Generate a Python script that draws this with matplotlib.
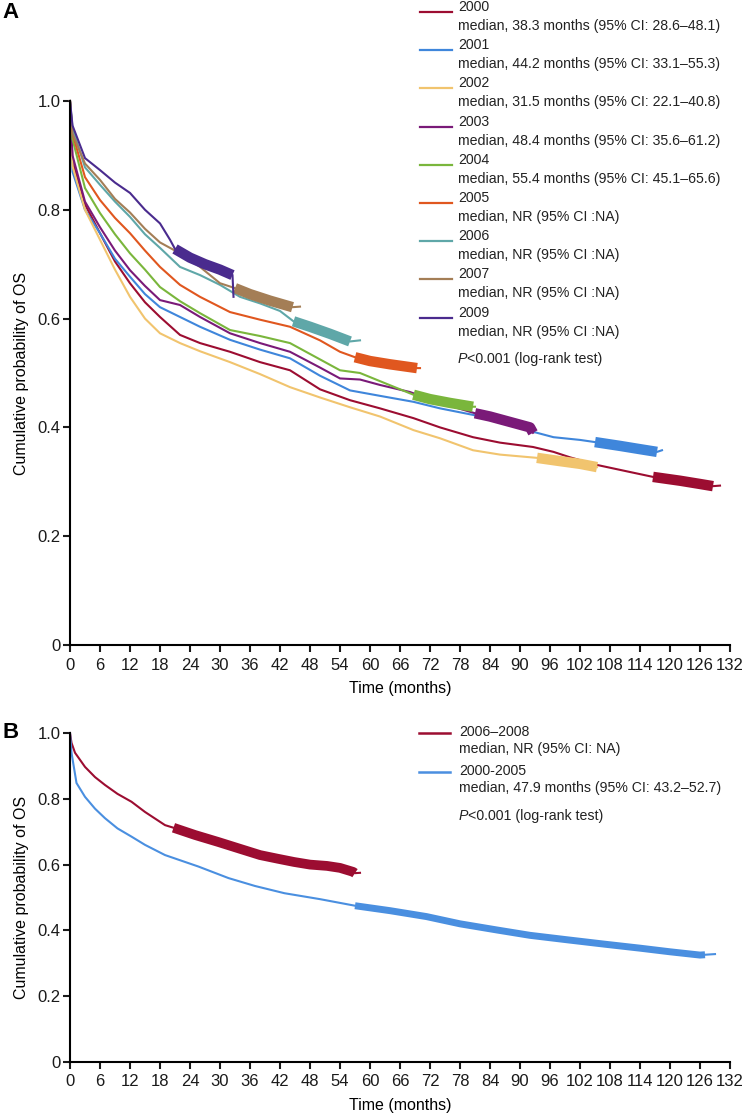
import matplotlib
matplotlib.use("Agg")
import matplotlib.pyplot as plt
from matplotlib.lines import Line2D

plt.rcParams['font.family'] = ['Liberation Sans', 'DejaVu Sans']

W, H = 743, 1114

# ---------------- Panel A data ----------------
years_a = ["2000", "2001", "2002", "2003", "2004", "2005", "2006", "2007", "2009"]
medians_a = [
    "median, 38.3 months (95% CI: 28.6\u201348.1)",
    "median, 44.2 months (95% CI: 33.1\u201355.3)",
    "median, 31.5 months (95% CI: 22.1\u201340.8)",
    "median, 48.4 months (95% CI: 35.6\u201361.2)",
    "median, 55.4 months (95% CI: 45.1\u201365.6)",
    "median, NR (95% CI :NA)",
    "median, NR (95% CI :NA)",
    "median, NR (95% CI :NA)",
    "median, NR (95% CI :NA)",
]
colors_a = ["#9C0D31", "#3F86DB", "#F1C46E", "#7A1A78", "#7AB63C",
            "#E0571F", "#5FA7A8", "#A47E56", "#4A2B8E"]

t_2000 = [0, 0.5, 3, 6, 9, 12, 15, 18, 22, 26, 32, 38, 44, 50, 56, 62, 68.7, 74, 80.6, 86, 92.6, 96.7, 100, 105.4, 112, 116.6, 122, 126, 128.6, 130]
s_2000 = [1.0, 0.89, 0.81, 0.757, 0.705, 0.665, 0.63, 0.603, 0.57, 0.555, 0.539, 0.52, 0.505, 0.47, 0.45, 0.435, 0.417, 0.40, 0.382, 0.372, 0.364, 0.355, 0.345, 0.331, 0.318, 0.309, 0.302, 0.296, 0.292, 0.293]

t_2001 = [0, 0.5, 3, 6, 9, 12, 15, 18, 22, 26, 32, 38, 44, 50, 56, 62, 68.7, 74, 80.6, 86, 92.6, 96.7, 102, 105, 110, 114, 117.4, 118.4]
s_2001 = [1.0, 0.87, 0.80, 0.757, 0.71, 0.677, 0.645, 0.621, 0.603, 0.585, 0.561, 0.543, 0.527, 0.495, 0.468, 0.458, 0.447, 0.435, 0.423, 0.41, 0.392, 0.382, 0.377, 0.373, 0.366, 0.36, 0.355, 0.358]

t_2002 = [0, 0.5, 3, 6, 9, 12, 15, 18, 22, 26, 32, 38, 44, 50, 56, 62, 68.7, 74, 80.6, 86, 93.4, 98, 102, 105.4]
s_2002 = [1.0, 0.88, 0.80, 0.745, 0.69, 0.64, 0.60, 0.573, 0.555, 0.54, 0.52, 0.498, 0.474, 0.455, 0.437, 0.42, 0.395, 0.38, 0.358, 0.35, 0.344, 0.338, 0.333, 0.327]

t_2003 = [0, 0.5, 3, 6, 9, 12, 15, 18, 22, 26, 32, 38, 44, 50, 54, 58, 62, 68, 74, 81, 84, 88, 92, 92.6]
s_2003 = [1.0, 0.90, 0.815, 0.768, 0.725, 0.689, 0.66, 0.634, 0.625, 0.603, 0.573, 0.555, 0.539, 0.51, 0.49, 0.488, 0.478, 0.465, 0.445, 0.426, 0.42, 0.41, 0.40, 0.39]

t_2004 = [0, 0.5, 3, 6, 9, 12, 15, 18, 22, 26, 32, 38, 44, 50, 54, 58, 62, 68.7, 72, 76, 80.6, 81]
s_2004 = [1.0, 0.93, 0.84, 0.794, 0.755, 0.72, 0.69, 0.658, 0.632, 0.61, 0.579, 0.568, 0.555, 0.525, 0.505, 0.50, 0.485, 0.46, 0.452, 0.445, 0.438, 0.438]

t_2005 = [0, 0.5, 3, 6, 9, 12, 15, 18, 22, 26, 32, 38, 44, 50, 54, 57, 60, 64, 69.4, 70]
s_2005 = [1.0, 0.94, 0.86, 0.818, 0.785, 0.757, 0.725, 0.695, 0.662, 0.64, 0.612, 0.598, 0.585, 0.56, 0.539, 0.529, 0.522, 0.516, 0.509, 0.509]

t_2006 = [0, 0.5, 3, 6, 9, 12, 15, 18, 22, 26, 30, 34, 38, 42, 44.7, 48, 52, 56, 58]
s_2006 = [1.0, 0.95, 0.878, 0.846, 0.815, 0.787, 0.755, 0.73, 0.695, 0.68, 0.662, 0.64, 0.628, 0.614, 0.595, 0.585, 0.572, 0.558, 0.56]

t_2007 = [0, 0.5, 3, 6, 9, 12, 15, 18, 22, 26, 30, 33, 36, 40, 44.5, 46]
s_2007 = [1.0, 0.94, 0.885, 0.855, 0.82, 0.795, 0.765, 0.74, 0.72, 0.695, 0.665, 0.656, 0.645, 0.633, 0.621, 0.622]

t_2009 = [0, 0.5, 3, 6, 9, 12, 15, 18, 20, 21, 24, 27, 30, 32.5, 32.7]
s_2009 = [1.0, 0.955, 0.895, 0.873, 0.85, 0.831, 0.80, 0.775, 0.745, 0.728, 0.712, 0.70, 0.69, 0.68, 0.64]

times_a = [t_2000, t_2001, t_2002, t_2003, t_2004, t_2005, t_2006, t_2007, t_2009]
surv_a = [s_2000, s_2001, s_2002, s_2003, s_2004, s_2005, s_2006, s_2007, s_2009]
# time span with dense censoring marks (start, end)
censor_a = [(116.6, 128.6), (105, 117.4), (93.4, 105.4), (81, 92.6), (68.7, 80.6),
            (57, 69.4), (44.7, 56), (33, 44.5), (21, 32.5)]

# ---------------- Panel B data ----------------
groups_b = ["2006\u20132008", "2000-2005"]
medians_b = ["median, NR (95% CI: NA)", "median, 47.9 months (95% CI: 43.2\u201352.7)"]
colors_b = ["#9C0D31", "#4A8FE0"]

t_0608 = [0, 0.3, 1, 3, 5, 7, 9.5, 12.3, 15, 19, 20.7, 25, 29.6, 34, 38, 41.5, 44.8, 48, 51.4, 54, 56.6, 57, 58]
s_0608 = [1.0, 0.97, 0.94, 0.897, 0.866, 0.842, 0.815, 0.791, 0.76, 0.72, 0.712, 0.69, 0.669, 0.648, 0.629, 0.618, 0.608, 0.60, 0.596, 0.59, 0.578, 0.574, 0.575]

t_0005 = [0, 0.3, 1.3, 3, 5, 7, 9.5, 12.3, 15, 19, 25.7, 31.7, 37, 42.9, 50, 57, 64, 71.3, 78, 85.5, 92, 99.7, 107, 114, 120, 126, 127, 129]
s_0005 = [1.0, 0.94, 0.848, 0.806, 0.77, 0.741, 0.71, 0.685, 0.66, 0.629, 0.594, 0.559, 0.535, 0.513, 0.495, 0.475, 0.46, 0.442, 0.42, 0.401, 0.385, 0.371, 0.358, 0.346, 0.335, 0.325, 0.326, 0.328]

times_b = [t_0608, t_0005]
surv_b = [s_0608, s_0005]
censor_b = [(20.7, 57), (57, 127)]

xticks = list(range(0, 133, 6))
yticks = [0, 0.2, 0.4, 0.6, 0.8, 1.0]
ytick_labels = ["0", "0.2", "0.4", "0.6", "0.8", "1.0"]
p_text = "<0.001 (log-rank test)"

# ---------------- Figure ----------------
fig = plt.figure(figsize=(W / 100, H / 100), dpi=100)


def fx(x):
    return x / W


def fy(y):
    return 1 - y / H


def style_axes(ax):
    ax.set_xlim(0, 132)
    ax.set_ylim(0, 1)
    for s in ["top", "right"]:
        ax.spines[s].set_visible(False)
    for s in ["left", "bottom"]:
        ax.spines[s].set_linewidth(1.5)
    ax.set_xticks(xticks)
    ax.set_xticklabels([str(v) for v in xticks])
    ax.set_yticks(yticks)
    ax.set_yticklabels(ytick_labels)
    ax.tick_params(axis="both", direction="out", length=5, width=1.5,
                   labelsize=12, colors="#1a1a1a")
    ax.tick_params(axis="x", pad=4)
    ax.tick_params(axis="y", pad=2)
    ax.set_xlabel("Time (months)", fontsize=11.5, labelpad=6)
    ax.set_ylabel("Cumulative probability of OS", fontsize=11.5, labelpad=6)


def draw_km(ax, t, s, c, band, lw_band):
    ax.plot(t, s, color=c, lw=1.5, solid_joinstyle="miter", clip_on=False)
    bt = [ti for ti in t if band[0] <= ti <= band[1]]
    bs = [si for ti, si in zip(t, s) if band[0] <= ti <= band[1]]
    ax.plot(bt, bs, color=c, lw=lw_band, solid_capstyle="butt", clip_on=False)


axA = fig.add_axes([fx(70), fy(645), 660 / W, 544 / H])
style_axes(axA)
for i in range(len(years_a)):
    draw_km(axA, times_a[i], surv_a[i], colors_a[i], censor_a[i], 7.5)

axB = fig.add_axes([fx(70), fy(1062), 660 / W, 329 / H])
style_axes(axB)
for i in range(2):
    draw_km(axB, times_b[i], surv_b[i], colors_b[i], censor_b[i], 7.0 if i == 0 else 5.0)

# panel labels
fig.text(fx(2), fy(12), "A", fontsize=16, fontweight="bold", va="center", ha="left")
fig.text(fx(2), fy(733), "B", fontsize=16, fontweight="bold", va="center", ha="left")

# legend A
LFS = 10.2
for i, (yr, md) in enumerate(zip(years_a, medians_a)):
    yy = 7 + 38.2 * i
    fig.add_artist(Line2D([fx(420), fx(452)], [fy(yy + 5), fy(yy + 5)],
                          color=colors_a[i], lw=1.6, transform=fig.transFigure))
    fig.text(fx(458), fy(yy), yr, fontsize=LFS, va="center", ha="left", color="#222222")
    fig.text(fx(458), fy(yy + 19), md, fontsize=LFS, va="center", ha="left", color="#222222")
pt = fig.text(fx(458), fy(359), "P", fontsize=LFS, style="italic", va="center", ha="left", color="#222222")
axA.annotate(p_text, xy=(1, 0), xycoords=pt, va="bottom", ha="left",
             fontsize=LFS, color="#222222", annotation_clip=False)

# legend B
yb = [732, 771]
for i, (g, md) in enumerate(zip(groups_b, medians_b)):
    yy = yb[i]
    fig.add_artist(Line2D([fx(419), fx(450)], [fy(yy + 1), fy(yy + 1)],
                          color=colors_b[i], lw=1.8, transform=fig.transFigure))
    fig.text(fx(459), fy(yy), g, fontsize=LFS, va="center", ha="left", color="#222222")
    fig.text(fx(459), fy(yy + 17), md, fontsize=LFS, va="center", ha="left", color="#222222")
ptb = fig.text(fx(459), fy(816), "P", fontsize=LFS, style="italic", va="center", ha="left", color="#222222")
axB.annotate(p_text, xy=(1, 0), xycoords=ptb, va="bottom", ha="left",
             fontsize=LFS, color="#222222", annotation_clip=False)

fig.savefig("out.png", dpi=100)
